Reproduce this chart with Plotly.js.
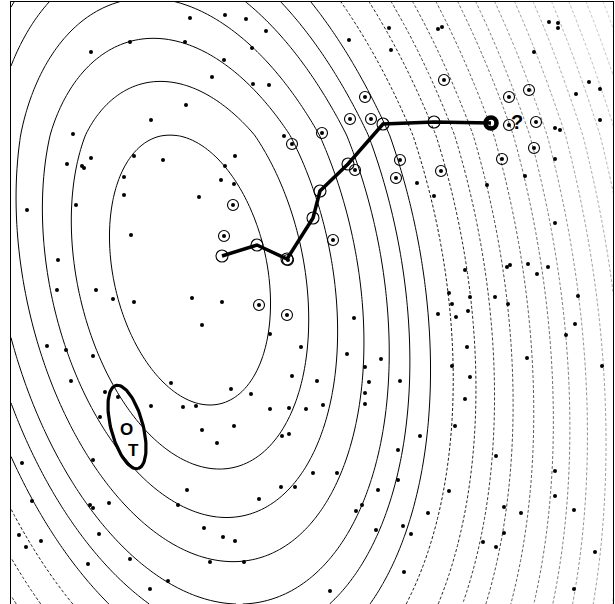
<!DOCTYPE html>
<html><head><meta charset="utf-8">
<script src="https://cdn.plot.ly/plotly-3.0.1.min.js"></script>
<style>html,body{margin:0;padding:0;background:#fff}</style>
</head><body><div id="chart" style="width:615px;height:604px"></div>
<script>
// ---- data (picture units: x to the right, y downward) ----
const dotX = [190,225,246,266,130,185,91,252,224,349,389,391,438,442,534,549,558,558,212,253,269,589,576,600,
186,151,73,284,67,82,84,91,134,163,235,225,600,555,560,555,525,487,417,434,124,124,221,234,199,27,76,131,58,555,465,507,510,528,548,537,578,575,566,602,
57,96,113,134,192,222,202,449,470,495,452,468,438,456,508,354,270,301,467,527,47,66,93,347,381,365,452,470,292,71,171,317,369,400,365,231,251,105,118,151,183,196,270,289,306,323,365,465,100,202,234,282,289,217,420,455,93,22,398,496,555,313,337,398,281,295,187,378,449,32,90,93,109,178,259,356,362,428,504,521,555,574,595,99,130,19,26,41,204,223,235,403,376,411,483,496,504,88,210,244,168,150,330,404,574];
const dotY = [18,15,19,31,42,42,52,48,60,40,28,50,29,27,52,22,23,28,77,84,85,82,94,89,
105,120,134,136,164,166,168,158,156,160,156,166,120,128,130,159,176,185,183,196,177,195,180,184,197,210,205,235,260,223,270,267,265,264,267,274,296,324,335,366,
290,290,299,302,298,302,325,293,297,297,304,311,314,317,304,318,334,347,347,358,346,350,356,354,359,367,366,377,376,381,383,381,382,381,393,389,394,392,397,406,407,406,409,408,409,405,404,399,417,430,426,436,434,443,436,426,460,463,450,456,471,473,473,480,487,487,490,490,491,501,505,508,503,505,499,511,505,513,507,513,496,510,552,534,559,535,547,541,528,537,541,526,530,534,542,547,533,564,562,562,581,589,591,572,589];

const circX = [444,509,529,536,534,502,509,365,350,371,322,292,400,396,441,355,233,224,333,259,287,288];
const circY = [80,97,90,122,148,159,125,97,119,119,133,144,160,178,171,170,205,236,240,305,315,260];

const pathX = [222,257,287,313,320,348,383,434,491];
const pathY = [256,245,259,218,191,164,124,122,123];
const endX = [491], endY = [123];

// contour field: centre and shape of the innermost ring
const fieldCenter = [190, 270];
const fieldXY = -0.296, fieldYY = 0.3557;
const topSquash = {from:135, amount:0.075, scale:40};   // rings are flatter above the centre
// ring levels = horizontal half-width of each ring through the centre
const ringLevels = [78,115,143,168.5,193,213,233,255,277,295,313,333,352,368,385,403,420,437,453,469,485,500];
const ringColors = ['#000','#000','#000','#000','#000','#000','#000',
 '#1a1a1a','#2a2a2a','#3a3a3a','#4a4a4a','#5c5c5c','#6e6e6e','#808080','#929292','#a0a0a0','#acacac','#b6b6b6','#c0c0c0','#c8c8c8','#d0d0d0','#d8d8d8'];

// ellipse marker around O / T
const ellCenter = [127, 427], ellAxes = [43, 16], ellTiltDeg = 15;
const labels = [{t:'O', x:126, y:429, s:17}, {t:'T', x:133, y:450, s:17}, {t:'?', x:517, y:122, s:20}];

// ---- build ----
const gx = [], gy = [];
for (let x = 11; x <= 614; x += 3) gx.push(x);
for (let y = 1; y <= 606; y += 3) gy.push(y);
const gz = gy.map(y => gx.map(x => {
  const dx = x - fieldCenter[0];
  let dy = y - fieldCenter[1];
  if (-dy > topSquash.from) dy *= 1 + topSquash.amount*(1 - Math.exp(-(-dy - topSquash.from)/topSquash.scale));
  return Math.sqrt(dx*dx + fieldXY*dx*dy + fieldYY*dy*dy);
}));

const traces = [];
ringLevels.forEach((L, i) => {
  traces.push({type:'contour', x:gx, y:gy, z:gz, autocontour:false,
    contours:{coloring:'none', start:L, end:L, size:1, showlabels:false},
    line:{color:ringColors[i], width:1, dash: i < 7 ? 'solid' : '3px,2px', smoothing:1},
    showscale:false, hoverinfo:'skip'});
});

// ellipse outline
const th = ellTiltDeg*Math.PI/180;
const ex = [], ey = [];
for (let k = 0; k <= 100; k++) {
  const t = 2*Math.PI*k/100;
  const a = ellAxes[0]*Math.cos(t), b = ellAxes[1]*Math.sin(t);
  ex.push(ellCenter[0] + a*Math.sin(th) + b*Math.cos(th));
  ey.push(ellCenter[1] + a*Math.cos(th) - b*Math.sin(th));
}

traces.push({type:'scatter', mode:'markers', x:dotX, y:dotY, marker:{size:4, color:'#000'}, hoverinfo:'skip'});
traces.push({type:'scatter', mode:'markers', x:circX, y:circY, marker:{size:4, color:'#000'}, hoverinfo:'skip'});
traces.push({type:'scatter', mode:'markers', x:circX, y:circY, marker:{symbol:'circle-open', size:11, color:'#000', line:{width:1.1, color:'#000'}}, hoverinfo:'skip'});
traces.push({type:'scatter', mode:'lines', x:ex, y:ey, line:{color:'#000', width:3.2}, hoverinfo:'skip'});
traces.push({type:'scatter', mode:'lines', x:pathX, y:pathY, line:{color:'#000', width:3.5}, hoverinfo:'skip'});
traces.push({type:'scatter', mode:'markers', x:pathX.slice(0,-1), y:pathY.slice(0,-1), marker:{symbol:'circle-open', size:12, color:'#000', line:{width:1.1, color:'#000'}}, hoverinfo:'skip'});
traces.push({type:'scatter', mode:'markers', x:endX, y:endY, marker:{symbol:'circle-open', size:11, color:'#000', line:{width:4.6, color:'#000'}}, hoverinfo:'skip'});

const layout = {
  width:615, height:604, showlegend:false,
  margin:{l:11, r:2, t:2, b:0, pad:0},
  paper_bgcolor:'#fff', plot_bgcolor:'#fff',
  xaxis:{range:[11,613], side:'top', showgrid:false, zeroline:false, showticklabels:false, ticks:'', showline:true, mirror:false, linecolor:'#000', linewidth:1.2},
  yaxis:{range:[604,2], showgrid:false, zeroline:false, showticklabels:false, ticks:'', showline:true, mirror:true, linecolor:'#000', linewidth:1.2},
  annotations: labels.map(l => ({x:l.x, y:l.y, text:'<b>'+l.t+'</b>', showarrow:false, xref:'x', yref:'y',
    font:{family:'Liberation Sans, Arial, sans-serif', size:l.s, color:'#000'}}))
};
Plotly.newPlot('chart', traces, layout, {staticPlot:true, displayModeBar:false});
</script></body></html>
